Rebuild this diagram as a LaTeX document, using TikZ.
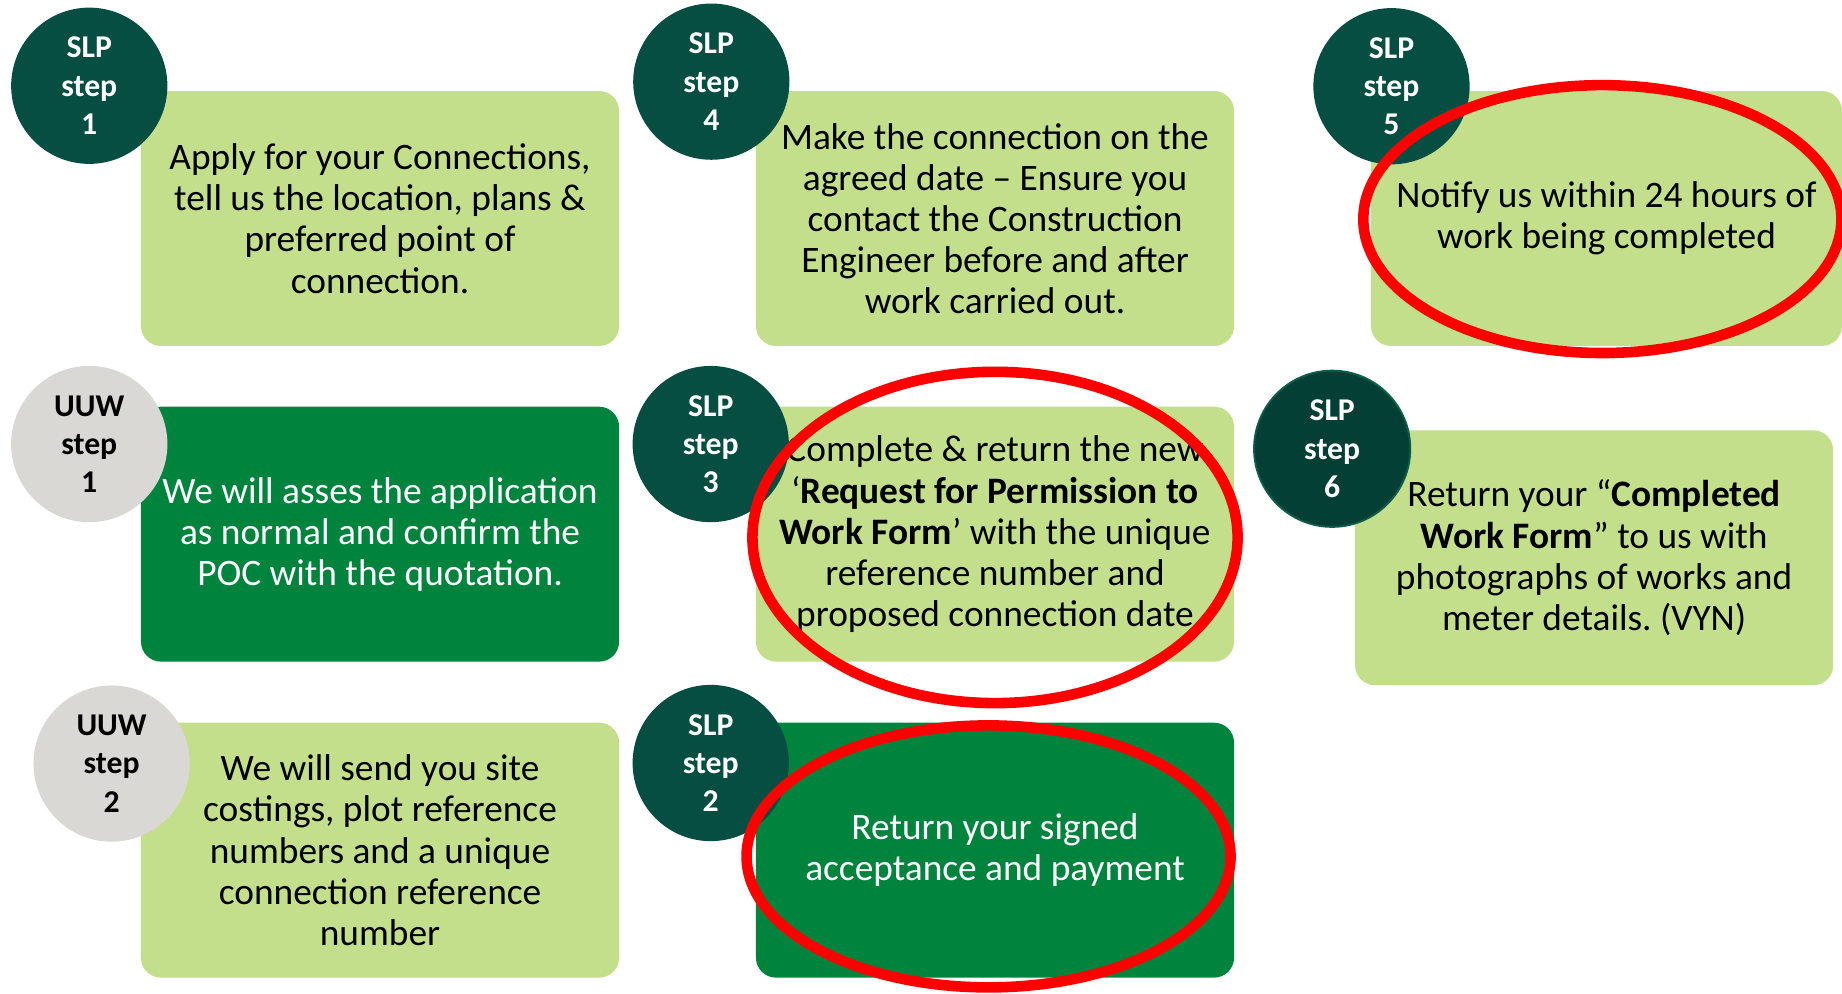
\documentclass[tikz,border=0pt]{standalone}
\usepackage{fontspec}
\setmainfont{Carlito}
\usetikzlibrary{shapes.geometric}
\frenchspacing
\definecolor{lightg}{HTML}{C4DF8B}
\definecolor{darkg}{HTML}{00843D}
\definecolor{slpc}{HTML}{054E41}
\definecolor{slpdark}{HTML}{043F35}
\definecolor{slpedge}{HTML}{0B5E4A}
\definecolor{uuwc}{HTML}{D9D8D5}
\definecolor{barc}{HTML}{A8C3B1}
\definecolor{ringred}{HTML}{FF0000}
\pgfdeclarelayer{back}
\pgfsetlayers{back,main}
\tikzset{
  boxbase/.style={rectangle, rounded corners=8.5pt, minimum width=203.5pt, minimum height=108.5pt, align=center, inner sep=2pt, font=\fontsize{15.9}{17.5}\selectfont},
  lbox/.style={boxbase, fill=lightg, text=black},
  dbox/.style={boxbase, fill=darkg, text=white},
  circbase/.style={circle, minimum size=66.5pt, inner sep=0pt, align=center, font=\fontsize{13.5}{16.25}\selectfont\bfseries},
  slpcirc/.style={circbase, fill=slpc, text=white},
  uuwcirc/.style={circbase, fill=uuwc, text=black},
  conn/.style={draw=barc, line width=16pt},
  redring/.style={ellipse, draw=ringred, line width=4.5pt, inner sep=0pt}
}
\begin{document}
\begin{tikzpicture}[x=0.5pt,y=-0.5pt]
\useasboundingbox[fill=white] (0,0) rectangle (1568,846);
% boxes
\node[lbox] (b1) at (323.5,186) {Apply for your Connections,\\tell us the location, plans \&\\preferred point of\\connection.};
\node[dbox] (b2) at (323.5,454.7) {We will asses the application\\as normal and confirm the\\POC with the quotation.};
\node[lbox] (b3) at (323.5,723.7) {We will send you site\\costings, plot reference\\numbers and a unique\\connection reference\\number};
\node[lbox] (s4) at (847,186) {Make the connection on the\\agreed date – Ensure you\\contact the Construction\\Engineer before and after\\work carried out.};
\node[lbox] (s3) at (847,454.7) {Complete \& return the new\\‘\textbf{Request for Permission to}\\\textbf{Work Form}’ with the unique\\reference number and\\proposed connection date};
\node[dbox] (s2) at (847,723.7) {Return your signed\\acceptance and payment};
\node[lbox, minimum width=200.5pt] (s5) at (1367.5,186) {Notify us within 24 hours of\\work being completed};
\node[lbox] (s6) at (1357,474.8) {Return your “\textbf{Completed}\\\textbf{Work Form}” to us with\\photographs of works and\\meter details. (VYN)};
% connectors (behind boxes)
\begin{pgfonlayer}{back}
\draw[conn] ([xshift=-53.25pt]b1.center) -- ([xshift=-53.25pt]b2.center);
\draw[conn] ([xshift=-53.25pt]b2.center) -- ([xshift=-53.25pt]b3.center);
\draw[conn] ([yshift=27.5pt]b3.center) -- ([yshift=27.5pt]s2.center);
\draw[conn] ([xshift=-53pt]s2.center) -- ([xshift=-53pt]s3.center);
\draw[conn] ([xshift=-53pt]s3.center) -- ([xshift=-53pt]s4.center);
\draw[conn] ([yshift=27.5pt]s4.center) -- ([yshift=27.5pt]s5.center);
\draw[conn] ([xshift=2.25pt]s5.center) -- ([xshift=2.25pt]s5.center |- s6.center);
\end{pgfonlayer}
% circles
\node[slpcirc] (c1) at (76,73) {SLP\\step\\1};
\node[uuwcirc] (u1) at (76,378) {UUW\\step\\1};
\node[uuwcirc] (u2) at (95,650) {UUW\\step\\2};
\node[slpcirc] (c4) at (605.5,69.5) {SLP\\step\\4};
\node[slpcirc] (c3) at (605,378) {SLP\\step\\3};
\node[slpcirc] (c2) at (605,649.5) {SLP\\step\\2};
\node[slpcirc] (c5) at (1184.5,73.4) {SLP\\step\\5};
\node[slpcirc, fill=slpdark, draw=slpedge, line width=0.8pt] (c6) at (1134,382) {SLP\\step\\6};
% red rings
\node[redring, minimum width=203.5pt, minimum height=114pt] (e1) at (1364,186.5) {};
\node[redring, minimum width=206.5pt, minimum height=141pt] (e2) at (847,457.5) {};
\node[redring, minimum width=206pt, minimum height=111.5pt] (e3) at (841.5,729) {};
\end{tikzpicture}
\end{document}
